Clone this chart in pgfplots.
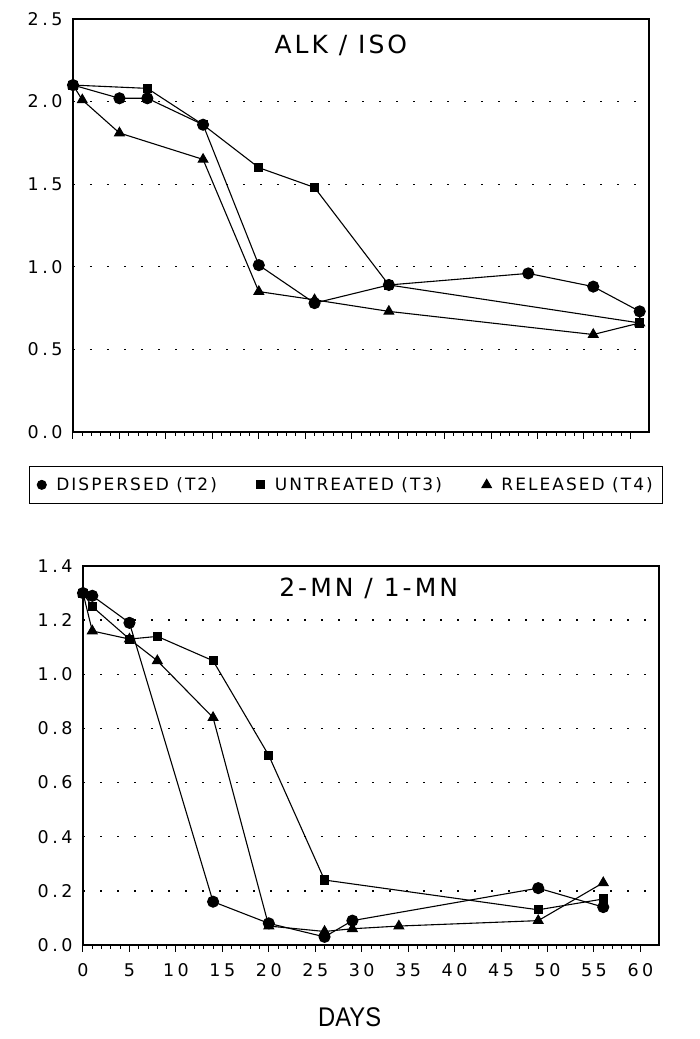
\documentclass[border=0pt]{standalone}
\usepackage{pgfplots}
\pgfplotsset{compat=1.18}
\usepackage{fontspec}
\setmainfont{DejaVu Sans}
\newfontfamily\tickfont{DejaVu Sans}[LetterSpace=20]
\newfontfamily\labfont{DejaVu Sans}[LetterSpace=12]
\newfontfamily\dayfont{Liberation Sans}

\pgfplotsset{
  panel/.style={
    scale only axis, width=576pt,
    xmin=0, xmax=62,
    xtick={0,5,...,60}, minor x tick num=4,
    tick align=outside, xtick pos=bottom, ytick pos=left,
    major tick length=7pt, minor tick length=4pt,
    tick style={line width=1pt, black},
    ytick style={draw=none},
    axis line style={line width=1.2pt},
    ymajorgrids,
    major grid style={line width=1.3pt, dash pattern=on 2pt off 15pt, black},
    ticklabel style={font=\tickfont\fontsize{17.5}{19}\selectfont},
    /pgf/number format/assume math mode=true,
    yticklabel style={/pgf/number format/fixed, /pgf/number format/fixed zerofill,
      /pgf/number format/precision=1},
    title style={font=\labfont\fontsize{25}{27}\selectfont, anchor=center},
  },
  ser/.style={black, line width=1.1pt, mark options={solid, fill=black}, forget plot},
}

\begin{document}
\begin{tikzpicture}
\path[use as bounding box] (0,0) rectangle (699pt,1039pt);

% upper panel: ALK / ISO
\begin{axis}[panel, at={(73pt,607pt)}, anchor=south west, height=413pt,
  ymin=0, ymax=2.5, ytick={0,0.5,...,2.5}, xticklabels={},
  title={ALK / ISO}, title style={at={(0.465,0.922)}},
  legend columns=3,
  legend style={at={(0.474,-0.128)}, anchor=center, draw=black, line width=1pt,
    font=\labfont\fontsize{17}{19}\selectfont, inner xsep=8pt, inner ysep=9pt,
    /tikz/every odd column/.append style={column sep=8pt},
    /tikz/every even column/.append style={column sep=38pt}},
  ]
  \addlegendimage{only marks, mark=*, mark size=4.5pt, black}
  \addlegendentry{DISPERSED (T2)}
  \addlegendimage{only marks, mark=square*, mark size=4pt, black}
  \addlegendentry{UNTREATED (T3)}
  \addlegendimage{only marks, mark=triangle*, mark size=5.5pt, black}
  \addlegendentry{RELEASED (T4)}
  % dispersed
  \addplot[ser, mark=*, mark size=5.5pt] coordinates {
    (0,2.10) (5,2.02) (8,2.02) (14,1.86) (20,1.01) (26,0.78)
    (34,0.89) (49,0.96) (56,0.88) (61,0.73)
  };
  % untreated
  \addplot[ser, mark=square*, mark size=4pt] coordinates {
    (0,2.10) (8,2.08) (14,1.86) (20,1.60) (26,1.48) (34,0.89) (61,0.66)
  };
  % released
  \addplot[ser, mark=triangle*, mark size=5.5pt] coordinates {
    (0,2.10) (1,2.01) (5,1.81) (14,1.65) (20,0.85) (26,0.80)
    (34,0.73) (56,0.59) (61,0.66)
  };
\end{axis}

% lower panel: 2-MN / 1-MN
\begin{axis}[panel, at={(83pt,94pt)}, anchor=south west, height=379pt,
  ymin=0, ymax=1.4, ytick={0,0.2,0.4,0.6,0.8,1.0,1.2,1.4},
  xticklabel style={yshift=-8pt},
  title={2-MN / 1-MN}, title style={at={(0.496,0.926)}},
  xlabel={\scalebox{0.88}[1]{\dayfont\fontsize{27}{30}\selectfont DAYS}},
  xlabel style={at={(0.463,0)}, anchor=center, yshift=-72pt},
  ]
  % dispersed
  \addplot[ser, mark=*, mark size=5.5pt] coordinates {
    (0,1.30) (1,1.29) (5,1.19) (14,0.16) (20,0.08) (26,0.03)
    (29,0.09) (49,0.21) (56,0.14)
  };
  % untreated
  \addplot[ser, mark=square*, mark size=4pt] coordinates {
    (0,1.30) (1,1.25) (5,1.13) (8,1.14) (14,1.05) (20,0.70)
    (26,0.24) (49,0.13) (56,0.17)
  };
  % released
  \addplot[ser, mark=triangle*, mark size=5.5pt] coordinates {
    (0,1.30) (1,1.16) (5,1.13) (8,1.05) (14,0.84) (20,0.07)
    (26,0.05) (29,0.06) (34,0.07) (49,0.09) (56,0.23)
  };
\end{axis}
\end{tikzpicture}
\end{document}
